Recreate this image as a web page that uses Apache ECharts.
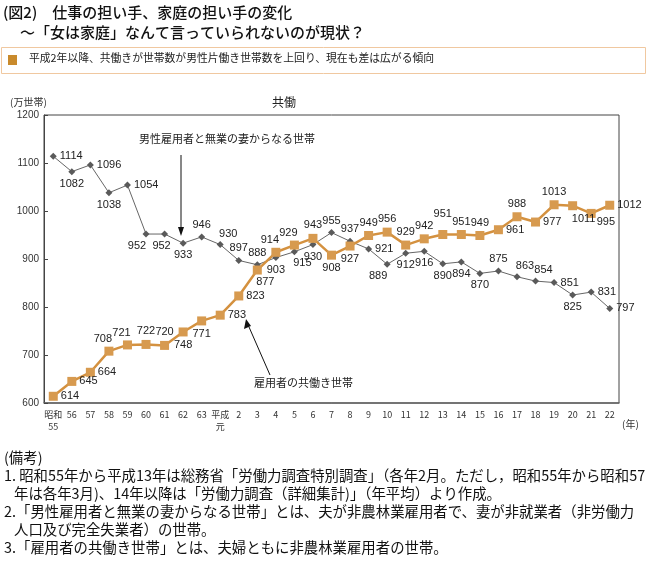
<!DOCTYPE html>
<html><head><meta charset="utf-8">
<script src="https://cdn.jsdelivr.net/npm/echarts@6/dist/echarts.min.js"></script>
<style>html,body{margin:0;padding:0;background:#fff}#c{width:650px;height:569px}</style>
</head><body><div id="c"></div>
<script>
const categories = ['昭和\n55','56','57','58','59','60','61','62','63','平成\n元','2','3','4','5','6','7','8','9','10','11','12','13','14','15','16','17','18','19','20','21','22'];
const maleSingle = [1114,1082,1096,1038,1054,952,952,933,946,930,897,888,903,915,930,955,937,921,889,912,916,890,894,870,875,863,854,851,825,831,797];
const dualEarner = [614,645,664,708,721,722,720,748,771,783,823,877,914,929,943,908,927,949,956,929,942,951,951,949,961,988,977,1013,1011,995,1012];
const yTicks = {min:600, max:1200, interval:100};
// label placement styles (not data)
const malePos = ['r','b','r','b','r','bl','bl2','b','t','tr','t','t','b','br','b','t','t','r','bl','b','b','b','b','b','t','tr','tr','r','b','r','r'];
const dualPos = ['r','r','r','tl','tl','t','t','b','b','r','r','br','tl','tl','t','b','b','t','t','t','t','tt','t','t','r','t','r','t','br2','rb','r'];

const JP = '"Noto Sans CJK JP","Noto Sans",sans-serif';
const NUM = '"Liberation Sans",Arial,sans-serif';
const posMap = {
  t:{position:'top',offset:[0,0]}, tt:{position:'top',offset:[0,-8]},
  b:{position:'bottom',offset:[0,0]}, r:{position:'right',offset:[0,0]}, l:{position:'left',offset:[0,0]},
  tr:{position:'top',offset:[8,1]}, tl:{position:'top',offset:[-6,1]},
  br:{position:'bottom',offset:[8,-1]}, br2:{position:'bottom',offset:[11,0]},
  bl:{position:'bottom',offset:[-9,0]}, bl2:{position:'bottom',offset:[-3,0]},
  rb:{position:'right',offset:[-2,9]}
};
const chart = echarts.init(document.getElementById('c'));
function mk(vals, pos){
  return vals.map((v,i)=>({value:v,label:Object.assign({distance:3},posMap[pos[i]])}));
}
const notes = [
 ['(備考)',4,458],
 ['1. 昭和55年から平成13年は総務省「労働力調査特別調査」（各年2月。ただし，昭和55年から昭和57',4,476],
 ['年は各年3月)、14年以降は「労働力調査（詳細集計)」（年平均）より作成。',14,494],
 ['2.「男性雇用者と無業の妻からなる世帯」とは、夫が非農林業雇用者で、妻が非就業者（非労働力',4,512],
 ['人口及び完全失業者）の世帯。',14,530],
 ['3.「雇用者の共働き世帯」とは、夫婦ともに非農林業雇用者の世帯。',4,548]
];
const graphics = [
 {type:'text',left:3,top:5,style:{text:'(図2)　仕事の担い手、家庭の担い手の変化',font:'500 15px '+JP,fill:'#111'}},
 {type:'text',left:20,top:25,style:{text:'～「女は家庭」なんて言っていられないのが現状？',font:'500 15px '+JP,fill:'#111'}},
 {type:'rect',shape:{x:1.5,y:47.5,width:644,height:26},style:{fill:'#fff',stroke:'#f0c8a0',lineWidth:1}},
 {type:'rect',shape:{x:8,y:55,width:9,height:10},style:{fill:'#c98a2c'}},
 {type:'text',left:29,top:53,style:{text:'平成2年以降、共働きが世帯数が男性片働き世帯数を上回り、現在も差は広がる傾向',font:'10.8px '+JP,fill:'#222'}},
 {type:'text',left:10,top:97,style:{text:'(万世帯)',font:'10px '+JP,fill:'#333'}},
 {type:'text',left:272,top:96,style:{text:'共働',font:'12px '+JP,fill:'#222'}},
 {type:'text',left:622,top:419,style:{text:'(年)',font:'10px '+JP,fill:'#333'}},
 {type:'text',left:139,top:133,style:{text:'男性雇用者と無業の妻からなる世帯',font:'11px '+JP,fill:'#222'}},
 {type:'line',shape:{x1:181,y1:155,x2:181,y2:228},style:{stroke:'#111',lineWidth:1}},
 {type:'polygon',shape:{points:[[178,227],[184,227],[181,236]]},style:{fill:'#111'}},
 {type:'text',left:254,top:377,style:{text:'雇用者の共働き世帯',font:'11px '+JP,fill:'#222'}},
 {type:'line',shape:{x1:270,y1:375,x2:249,y2:327},style:{stroke:'#111',lineWidth:1}},
 {type:'polygon',shape:{points:[[244,329],[251,326],[246,319]]},style:{fill:'#111'}}
];
notes.forEach(n=>graphics.push({type:'text',left:n[1],top:n[2]-8,style:{text:n[0],font:'14.4px '+JP,fill:'#111'}}));

chart.setOption({
  animation:false,
  backgroundColor:'#fff',
  grid:{left:44,right:31,top:115,bottom:166,show:true,borderColor:'#444',borderWidth:1},
  xAxis:{type:'category',data:categories,boundaryGap:true,
    axisLine:{lineStyle:{color:'#666',width:1.5}},
    axisTick:{inside:true,length:3,lineStyle:{color:'#444'}},
    axisLabel:{fontSize:9,color:'#333',fontFamily:JP,margin:6,interval:0,lineHeight:12}},
  yAxis:{type:'value',min:yTicks.min,max:yTicks.max,interval:yTicks.interval,
    axisLine:{show:true,lineStyle:{color:'#444'}},
    axisTick:{show:true,inside:true,length:4,lineStyle:{color:'#444'}},
    splitLine:{show:false},
    axisLabel:{fontSize:10,color:'#333',fontFamily:NUM,margin:5,formatter:v=>String(v)}},
  series:[
    {type:'line',name:'男性雇用者と無業の妻からなる世帯',data:mk(maleSingle,malePos),
      symbol:'diamond',symbolSize:7,itemStyle:{color:'#5a5a5a'},lineStyle:{color:'#666',width:1},
      label:{show:true,fontSize:11,color:'#222',fontFamily:NUM}},
    {type:'line',name:'雇用者の共働き世帯',data:mk(dualEarner,dualPos),
      symbol:'rect',symbolSize:9,itemStyle:{color:'#d79a4f'},lineStyle:{color:'#d4913f',width:2.5},
      label:{show:true,fontSize:11,color:'#222',fontFamily:NUM}}
  ],
  graphic:graphics
});
</script></body></html>
